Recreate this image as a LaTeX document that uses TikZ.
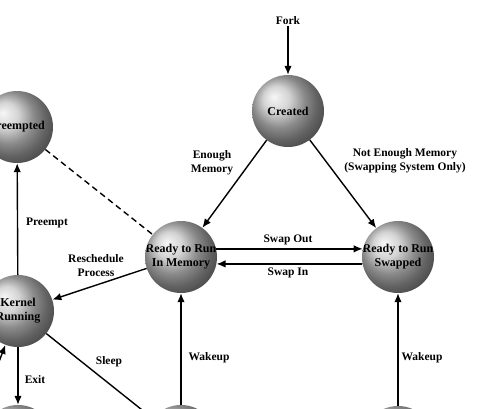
\documentclass[tikz,border=0pt]{standalone}
\usepackage{fontspec}
\setmainfont{Liberation Serif}
\usetikzlibrary{arrows.meta}
\newcommand{\mysphere}[4]{%
  \node[ball] (#1) at (#2,#3) {};
  \begin{scope}
    \clip (#1.center) circle (36pt);
    \node[stxt] (#1t) at (#1.center) {#4};
  \end{scope}}
\begin{document}
\begin{tikzpicture}[x=1pt,y=-1pt,
  ball/.style={circle, minimum size=72pt, inner sep=0pt, ball color=gray!45},
  stxt/.style={font=\fontsize{12}{14}\selectfont\bfseries, align=center, inner sep=0pt},
  lab/.style={font=\fontsize{11.5}{14}\selectfont\bfseries, align=center, inner sep=1pt},
  arr/.style={line width=1.4pt, -{Latex[length=9pt,width=7.5pt]}},
  dsh/.style={line width=1.4pt, dash pattern=on 6pt off 4pt}]
\clip (0,0) rectangle (493,408);
\fill[white] (0,0) rectangle (493,408);
\mysphere{cr}{288}{111}{Created}
\mysphere{pr}{17}{127}{Preempted}
\mysphere{rm}{181}{257}{Ready to Run\\In Memory}
\mysphere{sw}{398}{257}{Ready to Run\\Swapped}
\mysphere{kr}{18}{311}{Kernel\\Running}
\mysphere{bl}{18}{441}{}
\mysphere{bm}{181}{441}{}
\mysphere{bs}{398}{442}{}
\coordinate (ur) at (-22,418);
\node[lab] (fork) at (288,21) {Fork};
\node[lab] (l1) at (212,163) {Enough\\Memory};
\node[lab] (l2) at (405,161) {Not Enough Memory\\(Swapping System Only)};
\node[lab] (l3) at (288,240) {Swap Out};
\node[lab] (l4) at (288,273) {Swap In};
\node[lab] (l5) at (47,223) {Preempt};
\node[lab] (l6) at (96,266) {Reschedule\\Process};
\node[lab] (l7) at (35,380) {Exit};
\node[lab] (l8) at (109,362) {Sleep};
\node[lab] (l9) at (209,358) {Wakeup};
\node[lab] (l10) at (422,358) {Wakeup};
\draw[arr] (fork) -- (cr);
\draw[arr] (cr) -- (rm);
\draw[arr] (cr) -- (sw);
\draw[arr] (rm.13) -- (sw.167);
\draw[arr] (sw.-169) -- (rm.-11);
\draw[dsh] (pr) -- (rm);
\draw[arr] (kr) -- (pr);
\draw[arr] (rm) -- (kr);
\draw[arr] (kr) -- (bl);
\draw[arr] (kr) -- (bm);
\draw[arr] (bm) -- (rm);
\draw[arr] (bs) -- (sw);
\draw[arr] (ur) -- (kr);
\end{tikzpicture}
\end{document}
